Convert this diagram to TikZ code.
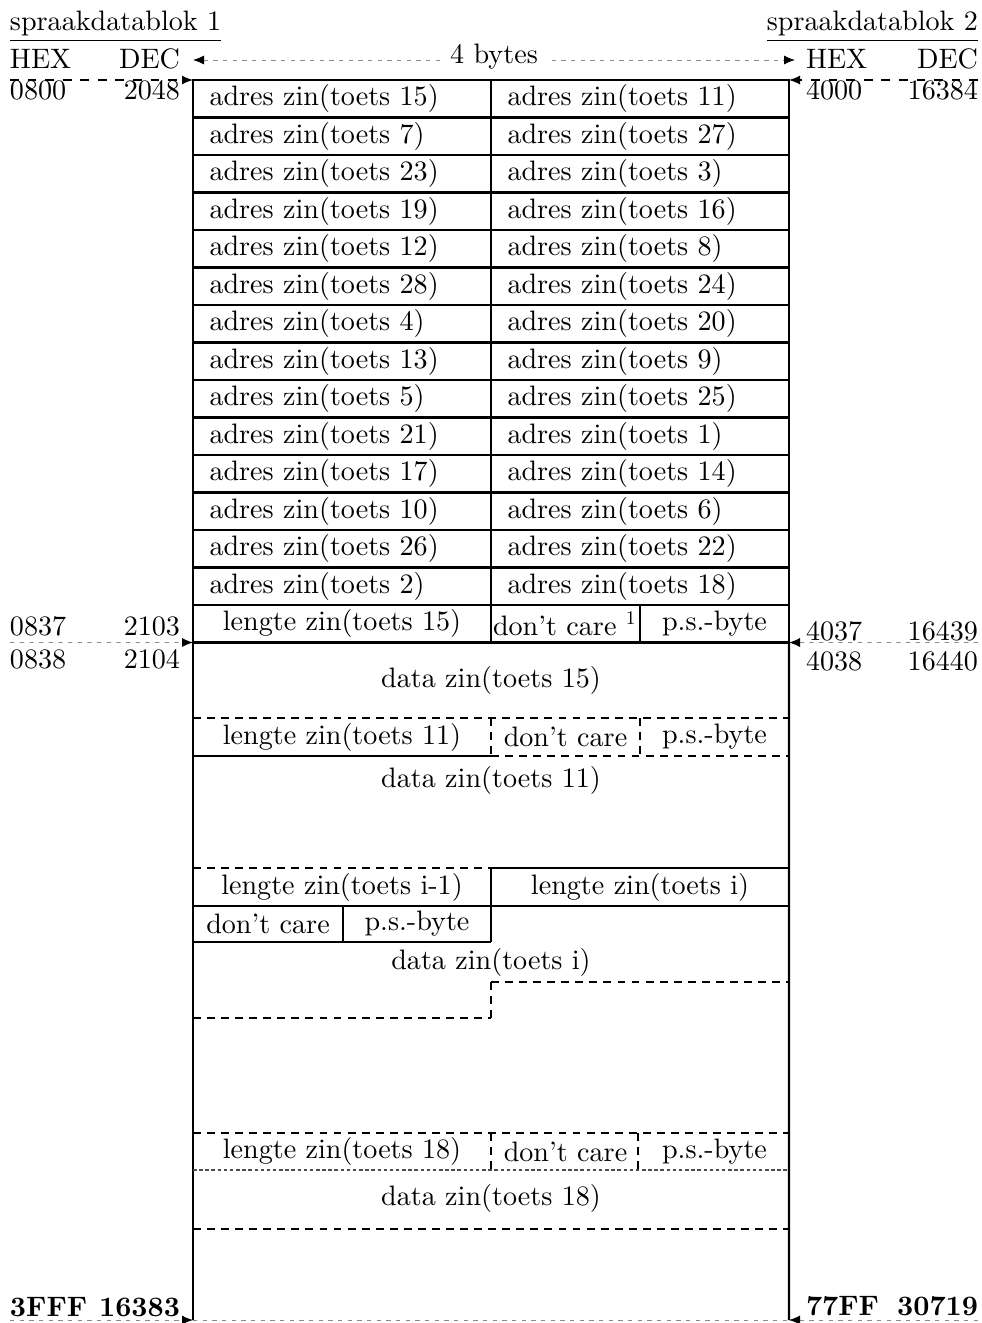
\documentclass[tikz,border=0pt]{standalone}
\usetikzlibrary{arrows.meta,positioning}
\DeclareFontFamily{TU}{lmten}{}
\DeclareFontShape{TU}{lmten}{m}{n}{<-> "[lmroman10-regular]:mapping=tex-text;"}{}
\DeclareFontShape{TU}{lmten}{b}{n}{<-> "[lmroman10-bold]:mapping=tex-text;"}{}
\DeclareFontShape{TU}{lmten}{bx}{n}{<-> "[lmroman10-bold]:mapping=tex-text;"}{}

\begin{document}
\begin{tikzpicture}[
  font=\fontfamily{lmten}\fontsize{16}{19}\selectfont,
  every node/.style={inner sep=0pt, outer sep=0pt},
  cell/.style={draw, line width=1.2pt, minimum height=0.75cm},
  adres/.style={cell, minimum width=5.96cm, text width=5.3cm, align=left},
  half/.style={cell, minimum width=5.96cm},
  byte/.style={cell, minimum width=2.98cm},
  boxline/.style={line width=1.2pt},
  dashsep/.style={line width=0.8pt, dash pattern=on 4.5pt off 3.5pt},
  dotsep/.style={line width=0.6pt, black!70, dash pattern=on 2pt off 1.5pt},
  faint/.style={line width=0.5pt, black!45, dash pattern=on 2.5pt off 3pt},
  tip/.style={-{Latex[length=2.2mm,width=1.8mm,black]}},
  addr/.style={tip, line width=0.7pt, dash pattern=on 5pt off 5pt},
  title/.style={inner ysep=3pt}
]
  \useasboundingbox (0,0) rectangle (19.64,-26.46);

  % koppen
  \node[title, anchor=base west] (sb1) at (0.2,-0.6) {spraakdatablok 1};
  \node[title, anchor=base east] (sb2) at (19.56,-0.6) {spraakdatablok 2};
  \draw[line width=0.8pt] (sb1.south west) -- (sb1.south east);
  \draw[line width=0.8pt] (sb2.south west) -- (sb2.south east);

  % adrestabel
  \node[adres, anchor=north west] (al1) at (3.86,-1.6) {adres zin(toets 15)};
  \node[adres, right=0pt of al1] (ar1) {adres zin(toets 11)};
  \foreach \l/\r [count=\i from 2] in {7/27, 23/3, 19/16, 12/8, 28/24, 4/20, 13/9,
      5/25, 21/1, 17/14, 10/6, 26/22, 2/18} {
    \pgfmathtruncatemacro\j{\i-1}
    \node[adres, below=0pt of al\j] (al\i) {adres zin(toets \l)};
    \node[adres, right=0pt of al\i] (ar\i) {adres zin(toets \r)};
  }
  \node[half, below=0pt of al14] (lg15) {lengte zin(toets 15)};
  \node[byte, right=0pt of lg15, text width=2.9cm, align=left] (dc15) {don’t care $^1$};
  \node[byte, right=0pt of dc15] (ps15) {p.s.-byte};

  % rand van het blok
  \coordinate (bl) at (3.86,-26.4);
  \coordinate (br) at (15.78,-26.4);
  \draw[boxline] (lg15.south west) -- (bl);
  \draw[boxline] (ps15.south east) -- (br);
  \draw[faint] (bl) -- (br);

  % 4 bytes
  \coordinate (bw) at (3.86,-1.2);
  \coordinate (be) at (15.9,-1.2);
  \draw[faint, {Latex[length=2.2mm,width=1.8mm,black]}-{Latex[length=2.2mm,width=1.8mm,black]}]
    (bw) -- node[fill=white, inner xsep=6pt, inner ysep=2pt, text=black, yshift=2pt] (nb) {4 bytes} (be);

  % zin 15
  \node (d15) at (9.82,-13.6) {data zin(toets 15)};
  \draw[dashsep] (3.86,-14.36) -- (15.78,-14.36);

  % zin 11
  \node (lg11) at (6.84,-14.74) {lengte zin(toets 11)};
  \node (dc11) at (11.31,-14.74) {don’t care};
  \node (ps11) at (14.29,-14.74) {p.s.-byte};
  \draw[dashsep] (9.82,-14.36) -- (9.82,-15.12) (12.8,-14.36) -- (12.8,-15.12);
  \draw[boxline] (3.86,-15.12) -- (9.82,-15.12);
  \draw[dashsep] (9.82,-15.12) -- (15.78,-15.12);
  \node (d11) at (9.82,-15.6) {data zin(toets 11)};

  % zin i-1 en i
  \draw[dashsep] (3.86,-17.36) -- (9.82,-17.36);
  \draw[boxline] (9.82,-17.36) -- (15.78,-17.36);
  \draw[boxline] (9.82,-17.36) -- (9.82,-18.84);
  \draw[boxline] (3.86,-18.12) -- (15.78,-18.12);
  \draw[boxline] (6.86,-18.12) -- (6.86,-18.84);
  \draw[boxline] (3.86,-18.84) -- (9.82,-18.84);
  \node (lgi1) at (6.84,-17.74) {lengte zin(toets i-1)};
  \node (lgi) at (12.8,-17.74) {lengte zin(toets i)};
  \node (dci1) at (5.36,-18.48) {don’t care};
  \node (psi1) at (8.34,-18.48) {p.s.-byte};
  \node (di) at (9.82,-19.24) {data zin(toets i)};
  \draw[dashsep] (9.82,-19.64) -- (15.78,-19.64);
  \draw[dashsep] (9.82,-19.64) -- (9.82,-20.36);
  \draw[dashsep] (3.86,-20.36) -- (9.82,-20.36);

  % zin 18
  \draw[dashsep] (3.86,-22.66) -- (15.78,-22.66);
  \node (lg18) at (6.84,-23.03) {lengte zin(toets 18)};
  \node (dc18) at (11.31,-23.03) {don’t care};
  \node (ps18) at (14.29,-23.03) {p.s.-byte};
  \draw[dashsep] (9.82,-22.66) -- (9.82,-23.4) (12.76,-22.66) -- (12.76,-23.4);
  \draw[dotsep] (3.86,-23.4) -- (15.78,-23.4);
  \node (d18) at (9.82,-23.96) {data zin(toets 18)};
  \draw[dashsep] (3.86,-24.58) -- (15.78,-24.58);

  % adressen links
  \node[anchor=base west] (hexl) at (0.2,-1.36) {HEX};
  \node[anchor=base east] (decl) at (3.6,-1.36) {DEC};
  \node[anchor=base west] (h0800) at (0.2,-1.98) {0800};
  \node[anchor=base east] (d2048) at (3.6,-1.98) {2048};
  \node[anchor=base west] (h0837) at (0.2,-12.7) {0837};
  \node[anchor=base east] (d2103) at (3.6,-12.7) {2103};
  \node[anchor=base west] (h0838) at (0.2,-13.36) {0838};
  \node[anchor=base east] (d2104) at (3.6,-13.36) {2104};
  \node[anchor=base west, font=\fontfamily{lmten}\fontsize{16}{19}\selectfont\bfseries] (h3fff) at (0.2,-26.32) {3FFF};
  \node[anchor=base east, font=\fontfamily{lmten}\fontsize{16}{19}\selectfont\bfseries] (d16383) at (3.6,-26.32) {16383};

  % adressen rechts
  \node[anchor=base west] (hexr) at (16.12,-1.36) {HEX};
  \node[anchor=base east] (decr) at (19.56,-1.36) {DEC};
  \node[anchor=base west] (h4000) at (16.12,-1.98) {4000};
  \node[anchor=base east] (d16384) at (19.56,-1.98) {16384};
  \node[anchor=base west] (h4037) at (16.12,-12.8) {4037};
  \node[anchor=base east] (d16439) at (19.56,-12.8) {16439};
  \node[anchor=base west] (h4038) at (16.12,-13.4) {4038};
  \node[anchor=base east] (d16440) at (19.56,-13.4) {16440};
  \node[anchor=base west, font=\fontfamily{lmten}\fontsize{16}{19}\selectfont\bfseries] (h77ff) at (16.12,-26.3) {77FF};
  \node[anchor=base east, font=\fontfamily{lmten}\fontsize{16}{19}\selectfont\bfseries] (d30719) at (19.56,-26.3) {30719};

  % pijlen naar het blok
  \coordinate (ml0) at (0.2,-1.6);
  \coordinate (mr0) at (19.56,-1.6);
  \coordinate (ml1) at (0.2,-12.85);
  \coordinate (mr1) at (19.56,-12.85);
  \coordinate (ml2) at (0.2,-26.4);
  \coordinate (mr2) at (19.56,-26.4);
  \draw[addr] (ml0) -- (al1.north west);
  \draw[addr] (mr0) -- (ar1.north east);
  \draw[faint, tip] (ml1) -- (lg15.south west);
  \draw[faint, tip] (mr1) -- (ps15.south east);
  \draw[faint, tip] (ml2) -- (bl);
  \draw[faint, tip] (mr2) -- (br);
\end{tikzpicture}
\end{document}
